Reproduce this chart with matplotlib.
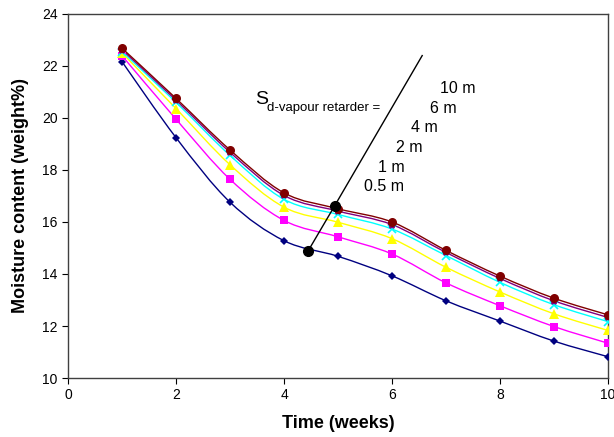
import numpy as np
import matplotlib.pyplot as plt
from matplotlib.path import Path
from matplotlib.patches import PathPatch

plt.rcParams['font.family'] = ['Liberation Sans', 'DejaVu Sans']

# drying time in weeks
weeks = [1, 2, 3, 4, 5, 6, 7, 8, 9, 10]

# moisture content (weight%) for each sd-value of the vapour retarder
mc_05 = [22.16, 19.24, 16.76, 15.28, 14.68, 13.93, 12.97, 12.19, 11.42, 10.82]
mc_1 = [22.39, 19.95, 17.64, 16.06, 15.43, 14.77, 13.66, 12.78, 11.98, 11.34]
mc_2 = [22.50, 20.36, 18.20, 16.57, 15.99, 15.36, 14.26, 13.31, 12.47, 11.83]
mc_4 = [22.55, 20.60, 18.56, 16.87, 16.29, 15.73, 14.71, 13.68, 12.82, 12.17]
mc_6 = [22.62, 20.68, 18.68, 17.02, 16.42, 15.90, 14.83, 13.83, 12.97, 12.33]
mc_10 = [22.68, 20.75, 18.77, 17.12, 16.51, 16.00, 14.91, 13.92, 13.07, 12.43]

# pointer line across the curves
pointer_x = [4.45, 4.94, 6.56]
pointer_y = [14.9, 16.63, 22.40]

sd_labels = ['0.5 m', '1 m', '2 m', '4 m', '6 m', '10 m']
label_x = [5.49, 5.75, 6.07, 6.35, 6.70, 6.89]
label_y = [17.37, 18.10, 18.87, 19.64, 20.37, 21.15]


def smooth_path(x, y):
    # Bezier segments through every point (like a spreadsheet's smoothed line)
    x = np.asarray(x, float)
    y = np.asarray(y, float)
    verts = [(x[0], y[0])]
    codes = [Path.MOVETO]
    n = len(x)
    for i in range(n - 1):
        p0 = (x[max(i - 1, 0)], y[max(i - 1, 0)])
        p1 = (x[i], y[i])
        p2 = (x[i + 1], y[i + 1])
        p3 = (x[min(i + 2, n - 1)], y[min(i + 2, n - 1)])
        c1 = (p1[0] + (p2[0] - p0[0]) / 6, p1[1] + (p2[1] - p0[1]) / 6)
        c2 = (p2[0] - (p3[0] - p1[0]) / 6, p2[1] - (p3[1] - p1[1]) / 6)
        verts += [c1, c2, p2]
        codes += [Path.CURVE4] * 3
    return Path(verts, codes)


fig, ax = plt.subplots(figsize=(6.14, 4.37), dpi=100)
fig.subplots_adjust(left=0.111, right=0.99, top=0.968, bottom=0.135)

series = [
    (mc_05, '#000080', 'D', 4.5, 'none'),
    (mc_1, '#FF00FF', 's', 6, 'none'),
    (mc_2, '#FFFF00', '^', 6.5, 'none'),
    (mc_4, '#00FFFF', 'x', 6, None),
    (mc_6, '#800080', '*', 6, None),
    (mc_10, '#800000', 'o', 6.5, 'none'),
]
for vals, col, mk, ms, mec in series:
    ax.add_patch(PathPatch(smooth_path(weeks, vals), facecolor='none',
                           edgecolor=col, lw=1.0, zorder=2))
    ax.plot(weeks, vals, ls='none', marker=mk, color=col, ms=ms,
            mew=1.2 if mec is None else 0, zorder=3)

ax.plot(pointer_x, pointer_y, color='black', lw=1.0, zorder=4)
ax.plot(pointer_x[:2], pointer_y[:2], ls='none', marker='o', color='black',
        ms=7, zorder=5)

# "S" with its subscript written as two separate texts
ax.text(3.46, 20.55, 'S', fontsize=14, va='baseline', ha='left')
ax.text(3.69, 20.27, 'd-vapour retarder =', fontsize=9.5, va='baseline',
        ha='left')
for lab, lx, ly in zip(sd_labels, label_x, label_y):
    ax.text(lx, ly, lab, fontsize=11.5, va='center', ha='left')

ax.set_xlim(0, 10)
ax.set_ylim(10, 24)
ax.set_xticks([0, 2, 4, 6, 8, 10])
ax.set_yticks([10, 12, 14, 16, 18, 20, 22, 24])
ax.tick_params(direction='out', length=4, labelsize=10)
for s in ax.spines.values():
    s.set_color('#404040')
    s.set_linewidth(1.0)

ax.set_xlabel('Time (weeks)', fontsize=13, fontweight='bold', labelpad=9)
ax.set_ylabel('Moisture content (weight%)', fontsize=13, fontweight='bold',
              labelpad=9)

plt.savefig('out.png', dpi=100)
